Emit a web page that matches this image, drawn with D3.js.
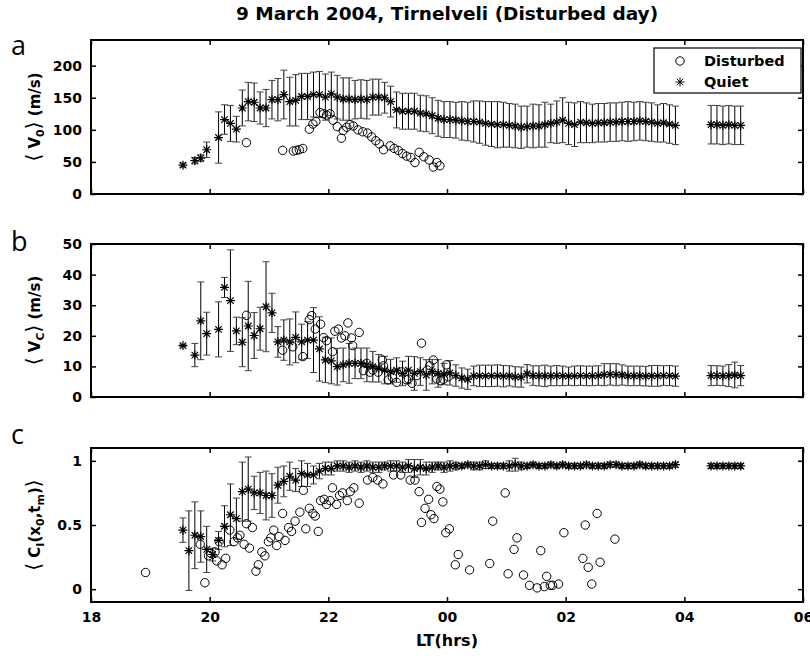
<!DOCTYPE html>
<html>
<head>
<meta charset="utf-8">
<script src="https://cdnjs.cloudflare.com/ajax/libs/d3/7.8.5/d3.min.js"></script>
<style>
body { margin: 0; background: #fff; }
svg text { font-family: "DejaVu Sans", sans-serif; font-weight: bold; }
</style>
</head>
<body>
<div id="chart"></div>
<script>
// quiet-day average, one value per 6 min slot (null = no data)
var quietHours = [
    19.55, 19.65, 19.75, 19.85, 19.95, 20.05, 20.15, 20.25, 20.35, 20.45,
    20.55, 20.65, 20.75, 20.85, 20.95, 21.05, 21.15, 21.25, 21.35, 21.45,
    21.55, 21.65, 21.75, 21.85, 21.95, 22.05, 22.15, 22.25, 22.35, 22.45,
    22.55, 22.65, 22.75, 22.85, 22.95, 23.05, 23.15, 23.25, 23.35, 23.45,
    23.55, 23.65, 23.75, 23.85, 23.95, 24.05, 24.15, 24.25, 24.35, 24.45,
    24.55, 24.65, 24.75, 24.85, 24.95, 25.05, 25.15, 25.25, 25.35, 25.45,
    25.55, 25.65, 25.75, 25.85, 25.95, 26.05, 26.15, 26.25, 26.35, 26.45,
    26.55, 26.65, 26.75, 26.85, 26.95, 27.05, 27.15, 27.25, 27.35, 27.45,
    27.55, 27.65, 27.75, 27.85, 28.45, 28.55, 28.65, 28.75, 28.85, 28.95
];

var quietV0 = [
    45, null, 52, 56, 69, null, 88, 116, 110, 101,
    134, 144, 143, 134, 134, 147, 147, 155, 144, 146,
    152, 152, 155, 155, 151, 156, 151, 148, 148, 147,
    148, 147, 151, 151, 150, 144, 131, 129, 129, 129,
    126, 125, 122, 118, 116, 116, 115, 114, 113, 113,
    112, 110, 109, 108, 108, 107, 106, 104, 105, 106,
    106, 108, 110, 112, 115, 110, 108, 112, 111, 110,
    111, 111, 112, 112, 113, 113, 113, 114, 113, 112,
    110, 111, 109, 107, 108, 108, 107, 108, 107, 107
];
var quietV0Err = [
    3, null, 5, 5, 12, null, 40, 23, 28, 20,
    28, 30, 30, 25, 29, 30, 33, 38, 38, 40,
    36, 36, 35, 36, 36, 34, 34, 33, 33, 30,
    30, 30, 28, 28, 24, 24, 28, 28, 28, 28,
    28, 28, 28, 28, 28, 28, 28, 30, 30, 32,
    33, 34, 35, 36, 35, 34, 34, 33, 32, 34,
    33, 35, 30, 33, 35, 33, 34, 32, 31, 30,
    30, 30, 30, 30, 30, 31, 30, 30, 30, 30,
    29, 30, 30, 30, 30, 30, 30, 30, 30, 30
];

var quietVc = [
    16.8, null, 13.7, 24.9, 20.7, null, 22.1, 35.8, 31.5, 21.6,
    17.9, 23.2, 20.1, 22.3, 29.5, 27.5, 18.0, 18.6, 18.0, 19.5,
    18.0, 18.6, 18.6, 15.7, 12.1, 11.8, 9.9, 10.5, 11.0, 11.0,
    11.0, 10.5, 9.9, 9.4, 8.8, 8.3, 8.8, 7.7, 8.8, 7.7,
    8.3, 7.2, 8.3, 7.7, 7.5, 7.9, 7.0, 6.2, 5.8, 6.9,
    6.9, 6.9, 6.9, 7.0, 6.8, 6.9, 6.6, 6.5, 7.6, 7.0,
    6.9, 6.9, 6.9, 7.0, 6.9, 6.8, 6.9, 7.0, 6.9, 6.9,
    7.0, 7.3, 7.4, 7.3, 7.2, 6.9, 6.9, 6.9, 6.8, 6.9,
    6.9, 7.0, 7.0, 6.8, 7.0, 7.0, 6.9, 7.0, 7.2, 7.0
];
var quietVcErr = [
    0.4, null, 3.8, 12.7, 7, null, 9, 3.3, 16.6, 4.5,
    8, 14.6, 7.5, 7, 14.7, 6.4, 5, 6.6, 7.5, 8.3,
    5.8, 6, 10.6, 10.5, 7.4, 7.5, 6, 5.5, 6.5, 5,
    5, 5.5, 5, 4.5, 4.5, 4, 4, 4, 4.5, 5.5,
    4.5, 5, 4, 4.5, 3.5, 4, 3.5, 3.3, 3.3, 3.2,
    3.5, 3.5, 3.5, 3.5, 3.5, 3.3, 3.3, 3.3, 3.0, 3.2,
    3.3, 3.5, 3.2, 3.3, 3.2, 3.0, 3.2, 3.2, 3.2, 3.2,
    3.2, 3.6, 3.5, 3.6, 3.3, 3.2, 3.2, 3.2, 3.2, 3.4,
    3.4, 3.2, 3.3, 3.3, 3.3, 3.2, 3.2, 3.6, 4.2, 3.3
];

var quietCI = [
    0.46, 0.30, 0.42, 0.41, 0.31, 0.27, 0.38, 0.49, 0.58, 0.55,
    0.76, 0.78, 0.75, 0.75, 0.73, 0.73, 0.81, 0.84, 0.88, 0.85,
    0.90, 0.89, 0.89, 0.92, 0.94, 0.94, 0.96, 0.96, 0.95, 0.96,
    0.95, 0.96, 0.95, 0.95, 0.96, 0.96, 0.96, 0.95, 0.96, 0.94,
    0.95, 0.94, 0.95, 0.96, 0.95, 0.96, 0.96, 0.96, 0.97, 0.96,
    0.96, 0.97, 0.96, 0.96, 0.96, 0.96, 0.97, 0.96, 0.96, 0.97,
    0.96, 0.96, 0.97, 0.96, 0.97, 0.96, 0.96, 0.96, 0.97, 0.96,
    0.96, 0.96, 0.97, 0.97, 0.96, 0.96, 0.96, 0.97, 0.96, 0.96,
    0.96, 0.96, 0.96, 0.97, 0.96, 0.96, 0.96, 0.96, 0.96, 0.96
];
var quietCIErr = [
    0.095, 0.31, 0.26, 0.20, 0.18, 0.05, 0.07, 0.16, 0.24, 0.16,
    0.23, 0.25, 0.13, 0.16, 0.19, 0.17, 0.14, 0.12, 0.11, 0.09,
    0.10, 0.09, 0.07, 0.06, 0.05, 0.05, 0.04, 0.04, 0.04, 0.04,
    0.04, 0.04, 0.04, 0.04, 0.03, 0.04, 0.04, 0.04, 0.05, 0.07,
    0.06, 0.05, 0.04, 0.03, 0.04, 0.04, 0.03, 0.02, 0.02, 0.03,
    0.03, 0.03, 0.02, 0.02, 0.02, 0.04, 0.05, 0.03, 0.02, 0.02,
    0.02, 0.02, 0.02, 0.02, 0.02, 0.02, 0.02, 0.02, 0.02, 0.02,
    0.02, 0.02, 0.02, 0.02, 0.02, 0.02, 0.02, 0.02, 0.02, 0.02,
    0.02, 0.02, 0.02, 0.02, 0.02, 0.02, 0.02, 0.02, 0.02, 0.02
];

// disturbed day (9 March 2004)
var disturbedV0Hours = [
    20.62, 21.23, 21.41, 21.46, 21.51, 21.57, 21.68, 21.74, 21.79, 21.86,
    21.92, 21.97, 22.03, 22.08, 22.15, 22.22, 22.25, 22.31, 22.36, 22.42,
    22.50, 22.58, 22.66, 22.73, 22.80, 22.86, 22.93, 23.04, 23.11, 23.18,
    23.25, 23.32, 23.39, 23.46, 23.53, 23.61, 23.70, 23.77, 23.83, 23.88
];
var disturbedV0 = [
    80, 68, 67, 68, 69, 71, 101, 109, 113, 127,
    125, 123, 125, 115, 105, 87, 99, 104, 108, 106,
    100, 97, 95, 89, 83, 78, 69, 75, 71, 68,
    63, 59, 57, 49, 65, 58, 53, 42, 49, 44
];

var disturbedVcHours = [
    20.62, 21.23, 21.40, 21.57, 21.68, 21.72, 21.78, 21.87, 21.92, 21.97,
    22.07, 22.11, 22.17, 22.22, 22.28, 22.33, 22.39, 22.41, 22.52, 22.59,
    22.65, 22.70, 22.75, 22.84, 22.91, 22.93, 23.01, 23.08, 23.15, 23.24,
    23.32, 23.35, 23.41, 23.49, 23.57, 23.67, 23.71, 23.77, 23.83, 23.89,
    23.94, 23.99, 24.02
];
var disturbedVc = [
    26.7, 15.3, 16.4, 13.2, 25.3, 26.6, 22.2, 23.8, 19.4, 18.4,
    14.8, 21.5, 22.2, 19.3, 20.0, 24.2, 19.3, 16.8, 21.1, 8.6,
    11.0, 8.1, 8.8, 8.1, 12.1, 10.2, 5.6, 6.4, 4.8, 8.2,
    5.6, 5.9, 4.5, 7.0, 17.6, 8.8, 10.2, 12.1, 5.9, 5.3,
    5.8, 10.5, 6.6
];

var disturbedCIHours = [
    18.92, 19.84, 19.92, 19.98, 20.02, 20.09, 20.12, 20.16, 20.21, 20.27,
    20.34, 20.41, 20.47, 20.51, 20.58, 20.62, 20.67, 20.72, 20.78, 20.82,
    20.88, 20.93, 20.99, 21.03, 21.08, 21.13, 21.17, 21.23, 21.27, 21.33,
    21.38, 21.44, 21.52, 21.58, 21.62, 21.68, 21.74, 21.78, 21.83, 21.87,
    21.93, 21.97, 22.03, 22.07, 22.14, 22.19, 22.24, 22.32, 22.37, 22.43,
    22.52, 22.66, 22.75, 22.83, 22.92, 23.10, 23.22, 23.38, 23.46, 23.53,
    23.57, 23.63, 23.69, 23.73, 23.78, 23.83, 23.88, 23.93, 23.98, 24.04,
    24.14, 24.19, 24.38, 24.72, 24.77, 24.98, 25.03, 25.13, 25.18, 25.29,
    25.39, 25.52, 25.58, 25.64, 25.68, 25.74, 25.78, 25.88, 25.97, 26.29,
    26.33, 26.38, 26.44, 26.53, 26.58, 26.83
];
var disturbedCI = [
    0.13, 0.35, 0.05, 0.26, 0.28, 0.29, 0.22, 0.37, 0.19, 0.24,
    0.46, 0.37, 0.40, 0.42, 0.35, 0.51, 0.32, 0.48, 0.14, 0.19,
    0.29, 0.26, 0.37, 0.40, 0.46, 0.34, 0.41, 0.59, 0.38, 0.48,
    0.45, 0.53, 0.60, 0.77, 0.47, 0.63, 0.59, 0.57, 0.45, 0.69,
    0.70, 0.66, 0.69, 0.79, 0.66, 0.73, 0.75, 0.69, 0.76, 0.79,
    0.67, 0.85, 0.87, 0.85, 0.82, 0.89, 0.89, 0.85, 0.85, 0.76,
    0.52, 0.63, 0.70, 0.58, 0.55, 0.80, 0.78, 0.68, 0.44, 0.47,
    0.19, 0.27, 0.15, 0.20, 0.53, 0.75, 0.12, 0.31, 0.40, 0.11,
    0.03, 0.01, 0.30, 0.02, 0.10, 0.03, 0.03, 0.04, 0.44, 0.24,
    0.50, 0.17, 0.04, 0.59, 0.21, 0.39
];

var xTicks = [18, 20, 22, 24, 26, 28, 30];
var xTickLabels = ["18", "20", "22", "00", "02", "04", "06"];
var v0Ticks = [0, 50, 100, 150, 200];
var vcTicks = [0, 10, 20, 30, 40, 50];
var ciTicks = [0, 0.5, 1];

var width = 810, height = 660;
var left = 91, right = 803;

var svg = d3.select("#chart").append("svg")
    .attr("width", width)
    .attr("height", height);

var x = d3.scaleLinear().domain([18, 30]).range([left, right]);

function starPath(r) {
    var d = r * 0.72;
    return "M" + (-r) + ",0H" + r + "M0," + (-r) + "V" + r +
        "M" + (-d) + "," + (-d) + "L" + d + "," + d +
        "M" + (-d) + "," + d + "L" + d + "," + (-d);
}

function drawPanel(p) {
    var y = d3.scaleLinear().domain(p.domain).range([p.bottom, p.top]);
    var g = svg.append("g");

    // axes (ticks point inward, MATLAB box style)
    var xb = d3.axisBottom(x).tickValues(xTicks).tickSizeInner(-5).tickSizeOuter(0).tickPadding(10)
        .tickFormat(function(d, i) { return p.xLabels ? xTickLabels[i] : ""; });
    g.append("g").attr("transform", "translate(0," + p.bottom + ")").call(xb);
    g.append("g").attr("transform", "translate(0," + p.top + ")")
        .call(d3.axisTop(x).tickValues(xTicks).tickSizeInner(-5).tickSizeOuter(0).tickFormat(""));
    g.append("g").attr("transform", "translate(" + left + ",0)")
        .call(d3.axisLeft(y).tickValues(p.ticks).tickSizeInner(-5).tickSizeOuter(0).tickPadding(9)
            .tickFormat(d3.format("~g")));
    g.append("g").attr("transform", "translate(" + right + ",0)")
        .call(d3.axisRight(y).tickValues(p.ticks).tickSizeInner(-5).tickSizeOuter(0).tickFormat(""));

    g.selectAll(".domain").remove();
    g.selectAll(".tick line").attr("stroke", "#000").attr("stroke-width", 1.5);
    g.selectAll(".tick text")
        .attr("fill", "#000")
        .style("font-size", "14px")
        .style("font-family", "'DejaVu Sans', sans-serif")
        .style("font-weight", "bold");

    var quiet = quietHours.map(function(h, i) {
        return {h: h, v: p.quiet[i], e: p.err[i]};
    }).filter(function(d) { return d.v != null; });

    // error bars
    var bars = g.append("g").attr("class", "errorbars");
    bars.selectAll("line.stem")
        .data(quiet).enter().append("line")
        .attr("class", "stem")
        .attr("x1", function(d) { return x(d.h); })
        .attr("x2", function(d) { return x(d.h); })
        .attr("y1", function(d) { return y(d.v - d.e); })
        .attr("y2", function(d) { return y(d.v + d.e); })
        .attr("stroke", "#000")
        .attr("stroke-width", 1);
    [-1, 1].forEach(function(s) {
        bars.selectAll("line.cap" + (s + 1))
            .data(quiet).enter().append("line")
            .attr("class", "cap" + (s + 1))
            .attr("x1", function(d) { return x(d.h) - 3.5; })
            .attr("x2", function(d) { return x(d.h) + 3.5; })
            .attr("y1", function(d) { return y(d.v + s * d.e); })
            .attr("y2", function(d) { return y(d.v + s * d.e); })
            .attr("stroke", "#444")
            .attr("stroke-width", 1);
    });

    // disturbed day circles
    g.append("g").selectAll("circle")
        .data(p.distHours.map(function(h, i) { return {h: h, v: p.dist[i]}; }))
        .enter().append("circle")
        .attr("cx", function(d) { return x(d.h); })
        .attr("cy", function(d) { return y(d.v); })
        .attr("r", 4.2)
        .attr("fill", "none")
        .attr("stroke", "#000")
        .attr("stroke-width", 1);

    // quiet day asterisks
    g.append("g").selectAll("path")
        .data(quiet).enter().append("path")
        .attr("d", starPath(4.5))
        .attr("transform", function(d) { return "translate(" + x(d.h) + "," + y(d.v) + ")"; })
        .attr("fill", "none")
        .attr("stroke", "#000")
        .attr("stroke-width", 1.2);

    // frame
    g.append("rect")
        .attr("x", left).attr("y", p.top)
        .attr("width", right - left).attr("height", p.bottom - p.top)
        .attr("fill", "none").attr("stroke", "#000").attr("stroke-width", 2);

    // panel letter
    svg.append("text")
        .attr("x", 11).attr("y", p.letterY)
        .style("font-family", "'Open Sans', sans-serif")
        .style("font-weight", "normal")
        .style("font-size", "27px")
        .text(p.letter);

    // y label with subscripts
    var lab = svg.append("text")
        .attr("transform", "translate(40," + ((p.top + p.bottom) / 2) + ") rotate(-90)")
        .attr("text-anchor", "middle")
        .style("font-size", "15px");
    var shift = 0;
    p.label.forEach(function(part) {
        var want = part.sub ? 4 : 0;
        var ts = lab.append("tspan").text(part.t).attr("dy", want - shift);
        shift = want;
        if (part.sub) ts.style("font-size", "11px");
        if (part.thin) ts.style("font-weight", "normal").style("font-size", "20px");
    });

    return y;
}

var panels = [
    {letter: "a", letterY: 55, top: 40, bottom: 194, domain: [0, 240], ticks: v0Ticks,
        quiet: quietV0, err: quietV0Err, distHours: disturbedV0Hours, dist: disturbedV0,
        label: [{t: "\u27E8", thin: true}, {t: " V"}, {t: "0", sub: true}, {t: "\u27E9", thin: true}, {t: " (m/s)"}]},
    {letter: "b", letterY: 251, top: 244, bottom: 397, domain: [0, 50], ticks: vcTicks,
        quiet: quietVc, err: quietVcErr, distHours: disturbedVcHours, dist: disturbedVc,
        label: [{t: "\u27E8", thin: true}, {t: " V"}, {t: "C", sub: true}, {t: "\u27E9", thin: true}, {t: " (m/s)"}]},
    {letter: "c", letterY: 444, top: 448, bottom: 602, domain: [-0.1, 1.1], ticks: ciTicks, xLabels: true,
        quiet: quietCI, err: quietCIErr, distHours: disturbedCIHours, dist: disturbedCI,
        label: [{t: "\u27E8", thin: true}, {t: " C"}, {t: "I", sub: true}, {t: "(x"}, {t: "0", sub: true},
            {t: ",t"}, {t: "m", sub: true}, {t: ")"}, {t: "\u27E9", thin: true}]}
];

panels.forEach(drawPanel);

// title and x label
svg.append("text")
    .attr("x", 447).attr("y", 20)
    .attr("text-anchor", "middle")
    .style("font-size", "18.5px")
    .text("9 March 2004, Tirnelveli (Disturbed day)");

svg.append("text")
    .attr("x", 447).attr("y", 646)
    .attr("text-anchor", "middle")
    .style("font-size", "16px")
    .text("LT(hrs)");

// legend
var leg = svg.append("g");
leg.append("rect")
    .attr("x", 654).attr("y", 48).attr("width", 147).attr("height", 45)
    .attr("fill", "#fff").attr("stroke", "#000").attr("stroke-width", 1.2);
leg.append("circle")
    .attr("cx", 680).attr("cy", 61).attr("r", 4.2)
    .attr("fill", "none").attr("stroke", "#000");
leg.append("path")
    .attr("d", starPath(4.5))
    .attr("transform", "translate(680,82)")
    .attr("fill", "none").attr("stroke", "#000");
leg.append("text").attr("x", 704).attr("y", 66).style("font-size", "14.5px").text("Disturbed");
leg.append("text").attr("x", 704).attr("y", 87).style("font-size", "14.5px").text("Quiet");
</script>
</body>
</html>
